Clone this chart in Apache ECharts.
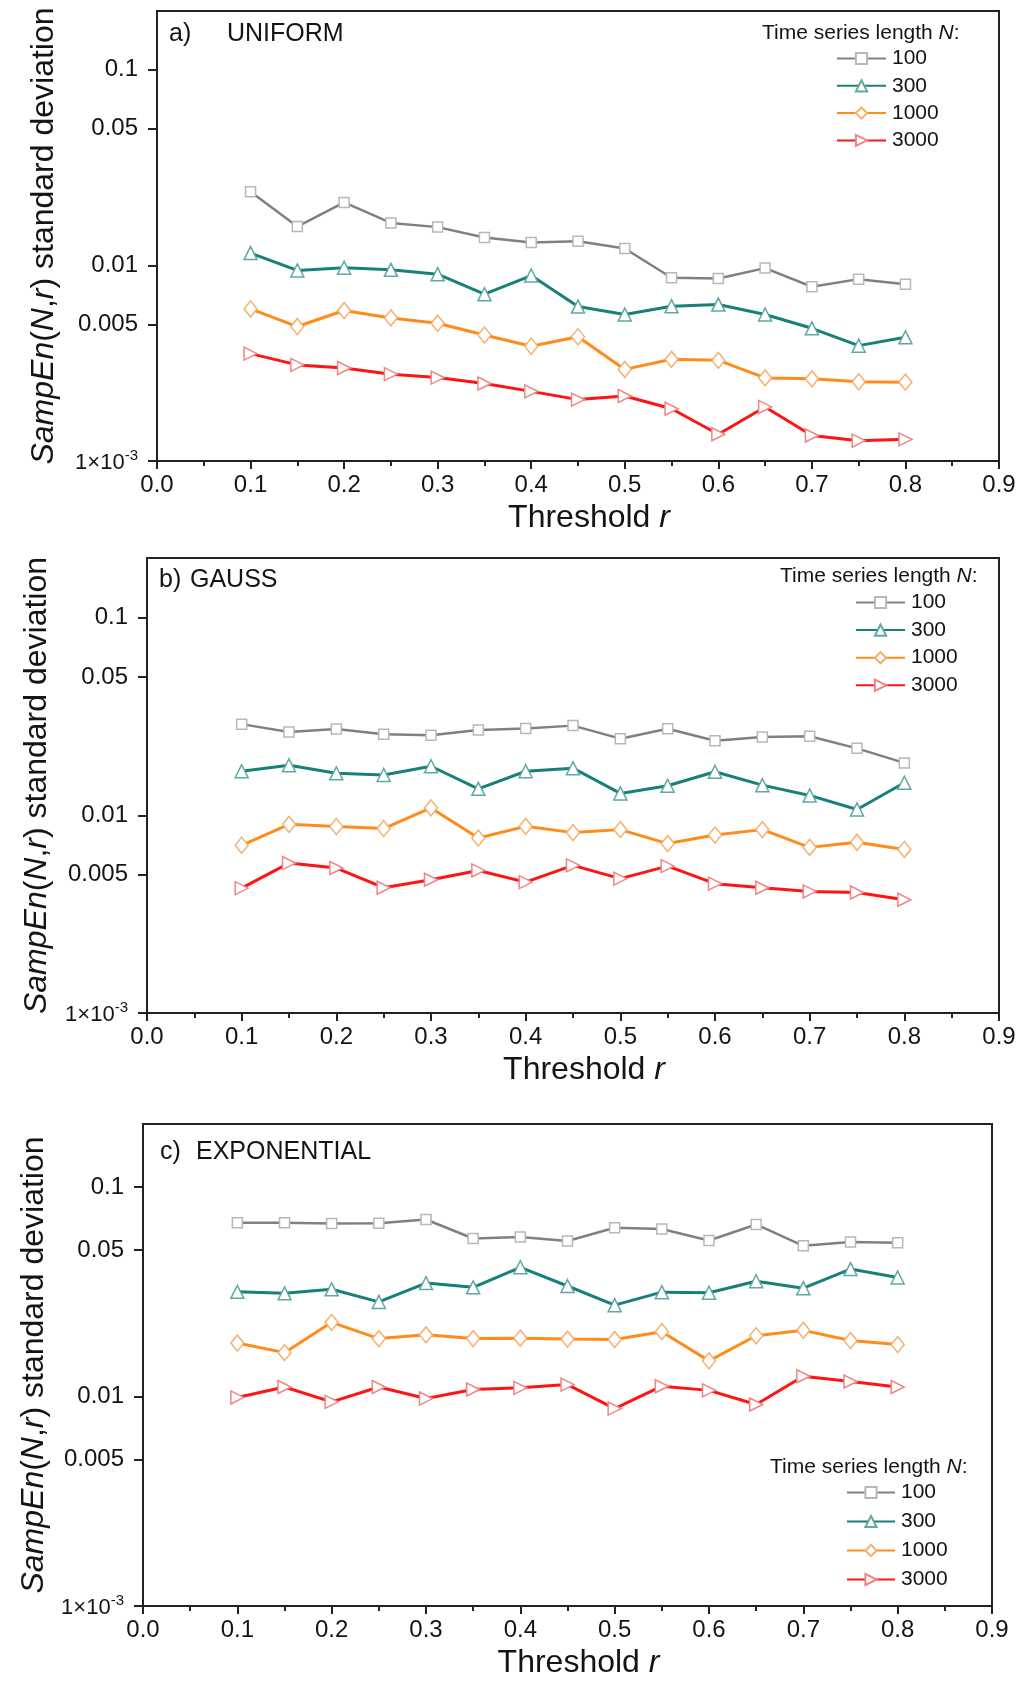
<!DOCTYPE html>
<html>
<head>
<meta charset="utf-8">
<script src="https://cdn.jsdelivr.net/npm/echarts@6/dist/echarts.min.js"></script>
<style>
html, body { margin: 0; padding: 0; background: #fff; }
#chart { width: 1030px; height: 1681px; }
</style>
</head>
<body>
<div id="chart"></div>
<script>
// Threshold r values shared by every curve
const thresholds = [0.1, 0.15, 0.2, 0.25, 0.3, 0.35, 0.4, 0.45, 0.5, 0.55, 0.6, 0.65, 0.7, 0.75, 0.8];

// Time series lengths N (legend entries)
const lengths = ['100', '300', '1000', '3000'];

// a) UNIFORM
const uniform100  = [0.0238, 0.0158, 0.0210, 0.0165, 0.0157, 0.0139, 0.0131, 0.0133, 0.0122, 0.00865, 0.00858, 0.00969, 0.00778, 0.00851, 0.00802];
const uniform300  = [0.01157, 0.00943, 0.00973, 0.00950, 0.00902, 0.00713, 0.00888, 0.00616, 0.00561, 0.00619, 0.00631, 0.00561, 0.00477, 0.00389, 0.00429];
const uniform1000 = [0.00599, 0.00487, 0.00588, 0.00539, 0.00506, 0.00441, 0.00386, 0.00432, 0.00294, 0.00331, 0.00327, 0.00266, 0.00263, 0.00254, 0.00253];
const uniform3000 = [0.00354, 0.00310, 0.00299, 0.00278, 0.00267, 0.00249, 0.00227, 0.00206, 0.00215, 0.00185, 0.00137, 0.00189, 0.00135, 0.00127, 0.00129];

// b) GAUSS
const gauss100  = [0.0289, 0.0264, 0.0273, 0.0257, 0.0254, 0.0270, 0.0275, 0.0284, 0.0244, 0.0274, 0.0238, 0.0249, 0.0251, 0.0218, 0.0184];
const gauss300  = [0.0167, 0.0179, 0.0163, 0.0160, 0.0177, 0.0136, 0.0167, 0.0173, 0.0129, 0.0141, 0.0166, 0.0142, 0.0126, 0.0107, 0.0146];
const gauss1000 = [0.00705, 0.00900, 0.00877, 0.00856, 0.01089, 0.00767, 0.00879, 0.00817, 0.00846, 0.00719, 0.00795, 0.00846, 0.00688, 0.00730, 0.00672];
const gauss3000 = [0.00428, 0.00573, 0.00541, 0.00430, 0.00472, 0.00526, 0.00459, 0.00558, 0.00478, 0.00553, 0.00451, 0.00430, 0.00412, 0.00407, 0.00374];

// c) EXPONENTIAL
const expo100  = [0.0675, 0.0675, 0.0670, 0.0672, 0.0700, 0.0568, 0.0577, 0.0553, 0.0639, 0.0630, 0.0556, 0.0663, 0.0524, 0.0547, 0.0542];
const expo300  = [0.0316, 0.0311, 0.0325, 0.0283, 0.0348, 0.0332, 0.0414, 0.0337, 0.0273, 0.0315, 0.0313, 0.0355, 0.0329, 0.0406, 0.0370];
const expo1000 = [0.0180, 0.0162, 0.0226, 0.0189, 0.0197, 0.0189, 0.0190, 0.0188, 0.0187, 0.0204, 0.0148, 0.0195, 0.0207, 0.0185, 0.0177];
const expo3000 = [0.0099, 0.0111, 0.00943, 0.0111, 0.00978, 0.0108, 0.0110, 0.0114, 0.00876, 0.0112, 0.0107, 0.00916, 0.0125, 0.0118, 0.0111];

// Axis ticks
const xTicks = [0, 0.1, 0.2, 0.3, 0.4, 0.5, 0.6, 0.7, 0.8, 0.9];
const yTickValues = [0.001, 0.005, 0.01, 0.05, 0.1];
const yTickLabels = ['{b|1×10}{s|-3}', '0.005', '0.01', '0.05', '0.1'];
const yMin = 0.001;
const yMax = 0.2;

const FONT = "'Liberation Sans', Arial, Helvetica, sans-serif";
const INK = '#141414';

const styles = [
  { line: '#808080', width: 2.5, symbol: 'rect',     size: 10,       border: '#b8b8b8', rotate: 0 },
  { line: '#17807a', width: 3,   symbol: 'triangle', size: 13,       border: '#5fa8a3', rotate: 0 },
  { line: '#ff8c1a', width: 3,   symbol: 'diamond',  size: [13, 16], border: '#f5b06e', rotate: 0 },
  { line: '#ff1414', width: 3,   symbol: 'triangle', size: 13,       border: '#f08585', rotate: -90 }
];

const panels = [
  { tag: 'a)', title: 'UNIFORM', values: [uniform100, uniform300, uniform1000, uniform3000],
    grid: { left: 157, top: 11, width: 842, height: 450 },
    legend: { left: 836, top: 48, gap: 6.3, w: 49 }, legendTitle: { x: 762, y: 33 },
    tagPos: { x: 169, x2: 227, y: 34 }, yNameGap: 97 },
  { tag: 'b)', title: 'GAUSS', values: [gauss100, gauss300, gauss1000, gauss3000],
    grid: { left: 147, top: 558, width: 852, height: 455 },
    legend: { left: 855, top: 592, gap: 6.6, w: 49 }, legendTitle: { x: 780, y: 576 },
    tagPos: { x: 159, x2: 190, y: 580 }, yNameGap: 94 },
  { tag: 'c)', title: 'EXPONENTIAL', values: [expo100, expo300, expo1000, expo3000],
    grid: { left: 143, top: 1124, width: 849, height: 482 },
    legend: { left: 846, top: 1482, gap: 8, w: 48 }, legendTitle: { x: 770, y: 1467 },
    tagPos: { x: 160, x2: 196, y: 1152 }, yNameGap: 93 }
];

const yTickLogs = yTickValues.map(v => Math.log10(v));
function yLabel(v) {
  for (let i = 0; i < yTickLogs.length; i++) {
    if (Math.abs(yTickLogs[i] - v) < 1e-6) return yTickLabels[i];
  }
  return '';
}

const grids = [], xAxes = [], yAxes = [], series = [], legends = [], graphics = [];

panels.forEach((p, i) => {
  grids.push(Object.assign({
    show: true, borderColor: '#222', borderWidth: 2, backgroundColor: 'transparent',
    containLabel: false, outerBoundsMode: 'none'
  }, p.grid));

  xAxes.push({
    type: 'value', gridIndex: i, position: 'bottom', min: xTicks[0], max: xTicks[xTicks.length - 1], interval: 0.1,
    axisLine: { show: true, onZero: false, lineStyle: { color: '#222', width: 2 } },
    axisTick: { show: true, inside: false, length: 8, lineStyle: { color: '#222', width: 2 } },
    minorTick: { show: true, splitNumber: 2, length: 5, lineStyle: { color: '#222', width: 2 } },
    splitLine: { show: false },
    axisLabel: { fontSize: 24, fontFamily: FONT, color: INK, margin: 12, formatter: v => v.toFixed(1) },
    name: '{n|Threshold }{i|r}', nameLocation: 'middle', nameGap: 41,
    nameTextStyle: { padding: [0, 0, 0, 22], rich: {
      n: { fontSize: 32, fontFamily: FONT, color: INK },
      i: { fontSize: 32, fontFamily: FONT, color: INK, fontStyle: 'italic' }
    } }
  });

  // log scale carrying the curves
  yAxes.push({
    type: 'log', logBase: 10, gridIndex: i, position: 'left', offset: 0, min: yMin, max: yMax,
    axisLine: { show: true, onZero: false, lineStyle: { color: '#222', width: 2 } },
    axisTick: { show: false }, axisLabel: { show: false }, splitLine: { show: false },
    name: '{i|SampEn}{n|(}{i|N}{n|,}{i|r}{n|) standard deviation}',
    nameLocation: 'middle', nameGap: p.yNameGap, nameRotate: 90,
    nameTextStyle: { rich: {
      n: { fontSize: 32, fontFamily: FONT, color: INK },
      i: { fontSize: 32, fontFamily: FONT, color: INK, fontStyle: 'italic' }
    } }
  });
  // decade scale in log10 units for the 1-2-5 style tick marks
  yAxes.push({
    type: 'value', gridIndex: i, position: 'left', offset: 0, min: Math.log10(yMin), max: Math.log10(yMax),
    axisLine: { show: false, onZero: false },
    axisTick: { show: true, inside: false, length: 9, lineStyle: { color: '#222', width: 2 }, customValues: yTickLogs },
    splitLine: { show: false },
    axisLabel: {
      customValues: yTickLogs, formatter: yLabel, fontSize: 24, fontFamily: FONT, color: INK, margin: 19,
      rich: {
        b: { fontSize: 22, fontFamily: FONT, color: INK, verticalAlign: 'bottom' },
        s: { fontSize: 15, fontFamily: FONT, color: INK, verticalAlign: 'bottom', padding: [0, 0, 10, 0] }
      }
    }
  });

  p.values.forEach((vals, k) => {
    const st = styles[k];
    series.push({
      type: 'line', name: lengths[k], xAxisIndex: i, yAxisIndex: 2 * i,
      data: thresholds.map((r, j) => [r, vals[j]]),
      symbol: st.symbol, symbolSize: st.size, symbolRotate: st.rotate, showAllSymbol: true,
      lineStyle: { color: st.line, width: st.width },
      itemStyle: { color: '#fff', borderColor: st.border, borderWidth: 1.5 },
      emphasis: { disabled: true },
      z: 2 + k, animation: false
    });
  });

  legends.push({
    data: lengths, orient: 'vertical', left: p.legend.left, top: p.legend.top,
    itemWidth: p.legend.w, itemHeight: 14, itemGap: p.legend.gap, padding: 0,
    textStyle: { fontSize: 21, fontFamily: FONT, color: INK, padding: [0, 0, 0, 1] },
    selectedMode: false
  });

  graphics.push({
    type: 'text', x: p.legendTitle.x, y: p.legendTitle.y,
    style: {
      text: '{n|Time series length }{i|N}{n|:}', verticalAlign: 'middle', textVerticalAlign: 'middle',
      rich: {
        n: { fontSize: 21, fontFamily: FONT, fill: INK, color: INK },
        i: { fontSize: 21, fontFamily: FONT, fill: INK, color: INK, fontStyle: 'italic' }
      }
    }
  });
  graphics.push({
    type: 'text', x: p.tagPos.x, y: p.tagPos.y,
    style: { text: p.tag, font: '25px ' + FONT, fill: INK, verticalAlign: 'middle', textVerticalAlign: 'middle' }
  });
  graphics.push({
    type: 'text', x: p.tagPos.x2, y: p.tagPos.y,
    style: { text: p.title, font: '25px ' + FONT, fill: INK, verticalAlign: 'middle', textVerticalAlign: 'middle' }
  });
});

const chart = echarts.init(document.getElementById('chart'), null, { renderer: 'canvas' });
chart.setOption({
  backgroundColor: '#fff',
  animation: false,
  grid: grids,
  xAxis: xAxes,
  yAxis: yAxes,
  legend: legends,
  series: series,
  graphic: graphics
});
</script>
</body>
</html>
